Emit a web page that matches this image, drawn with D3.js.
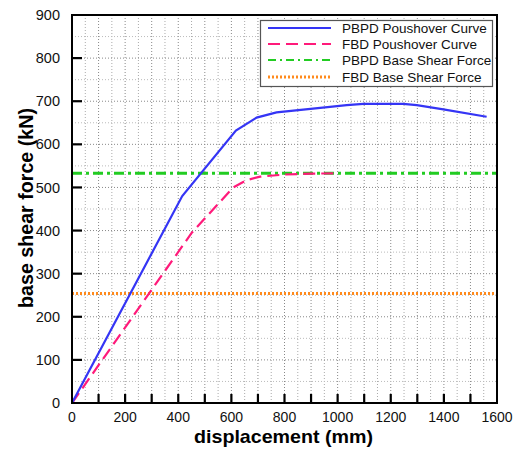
<!DOCTYPE html>
<html><head><meta charset="utf-8">
<script src="https://cdn.jsdelivr.net/npm/d3@7"></script>
<style>body{margin:0;background:#fff}svg{display:block}text{font-family:"Liberation Sans",Arial,sans-serif}</style>
</head><body>
<svg id="c" width="515" height="451"></svg>
<script>
const pbpdDisp  = [0, 415, 617, 695, 770, 971, 1034, 1097, 1247, 1298, 1398, 1561];
const pbpdForce = [0, 480, 632, 662, 674, 687, 691, 694, 694, 691, 681, 664];
const fbdDisp   = [0, 451, 607, 657, 708, 800, 900, 1004];
const fbdForce  = [0, 395, 500, 517, 525, 530, 532, 533];
const pbpdBaseShear = 533;
const fbdBaseShear = 254;
const xTicks = [0,200,400,600,800,1000,1200,1400,1600];
const yTicks = [0,100,200,300,400,500,600,700,800,900];
const legendLabels = ["PBPD Poushover Curve","FBD Poushover Curve","PBPD Base Shear Force","FBD Base Shear Force"];

const svg = d3.select("#c");
const L=72,R=497,T=15,B=403;
const x = d3.scaleLinear().domain([0,1600]).range([L,R]);
const y = d3.scaleLinear().domain([0,900]).range([B,T]);

// grid
const g = svg.append("g");
d3.range(50,1600,50).forEach(v=>{
  g.append("line").attr("x1",x(v)).attr("x2",x(v)).attr("y1",T).attr("y2",B)
   .attr("stroke",v%100===0?"#888":"#aaa").attr("stroke-width",1).attr("stroke-dasharray","1,2");
});
d3.range(50,900,50).forEach(v=>{
  g.append("line").attr("x1",L).attr("x2",R).attr("y1",y(v)).attr("y2",y(v))
   .attr("stroke",v%100===0?"#888":"#bbb").attr("stroke-width",1).attr("stroke-dasharray","1,2");
});

// major ticks (inward)
d3.range(100,1600,100).forEach(v=>{
  svg.append("line").attr("x1",x(v)).attr("x2",x(v)).attr("y1",B).attr("y2",B-9)
    .attr("stroke","#000").attr("stroke-width",2.2);
});
d3.range(100,900,100).forEach(v=>{
  svg.append("line").attr("x1",L).attr("x2",L+10).attr("y1",y(v)).attr("y2",y(v))
    .attr("stroke","#000").attr("stroke-width",2.2);
});

// tick labels
xTicks.forEach(v=>{
  svg.append("text").attr("x",x(v)).attr("y",417).attr("dy","0.35em").attr("text-anchor","middle")
    .attr("font-size",14).attr("fill","#111").text(v);
});
yTicks.forEach(v=>{
  svg.append("text").attr("x",60).attr("y",y(v)).attr("dy","0.35em").attr("text-anchor","end")
    .attr("font-size",14.5).attr("fill","#111").text(v);
});

// data lines
const line = d3.line().x(d=>x(d[0])).y(d=>y(d[1]));
svg.append("line").attr("x1",L).attr("x2",R).attr("y1",y(fbdBaseShear)).attr("y2",y(fbdBaseShear))
  .attr("stroke","#ff8a1c").attr("stroke-width",3).attr("stroke-dasharray","2,2");
svg.append("line").attr("x1",L).attr("x2",R).attr("y1",y(pbpdBaseShear)).attr("y2",y(pbpdBaseShear))
  .attr("stroke","#22cc22").attr("stroke-width",3).attr("stroke-dasharray","10,4,3,4");
svg.append("path").datum(fbdDisp.map((d,i)=>[d,fbdForce[i]])).attr("d",line)
  .attr("fill","none").attr("stroke","#ff1a7a").attr("stroke-width",2.2).attr("stroke-dasharray","12,6");
svg.append("path").datum(pbpdDisp.map((d,i)=>[d,pbpdForce[i]])).attr("d",line)
  .attr("fill","none").attr("stroke","#3535f5").attr("stroke-width",2.2);

// frame
svg.append("rect").attr("x",L).attr("y",T).attr("width",R-L).attr("height",B-T)
  .attr("fill","none").attr("stroke","#000").attr("stroke-width",2);

// legend
const lg = svg.append("g");
lg.append("rect").attr("x",260.5).attr("y",20.5).attr("width",232).attr("height",66)
  .attr("fill","#fff").attr("stroke","#555").attr("stroke-width",1.2);
const styles = [
  {c:"#3535f5",w:2.2,d:null},
  {c:"#ff1a7a",w:2,d:"12,6"},
  {c:"#22cc22",w:2,d:"8,4,2,4"},
  {c:"#ff8a1c",w:3,d:"2,2"}
];
const rowsY=[28,44,60,77];
legendLabels.forEach((t,i)=>{
  const s=styles[i];
  const ln=lg.append("line").attr("x1",268).attr("x2",331).attr("y1",rowsY[i]).attr("y2",rowsY[i])
    .attr("stroke",s.c).attr("stroke-width",s.w);
  if(s.d) ln.attr("stroke-dasharray",s.d);
  lg.append("text").attr("x",342).attr("y",rowsY[i]).attr("dy","0.35em")
    .attr("font-size",13.5).attr("fill","#111").text(t);
});

// axis titles
svg.append("text").attr("x",283.5).attr("y",436.5).attr("dy","0.35em").attr("text-anchor","middle")
  .attr("font-size",19).attr("font-weight","bold").attr("fill","#000")
  .attr("textLength",179).attr("lengthAdjust","spacingAndGlyphs").text("displacement (mm)");
svg.append("text").attr("transform","translate(26,208) rotate(-90)").attr("dy","0.35em").attr("text-anchor","middle")
  .attr("font-size",19.5).attr("font-weight","bold").attr("fill","#000")
  .attr("textLength",200).attr("lengthAdjust","spacingAndGlyphs").text("base shear force (kN)");
</script>
</body></html>
